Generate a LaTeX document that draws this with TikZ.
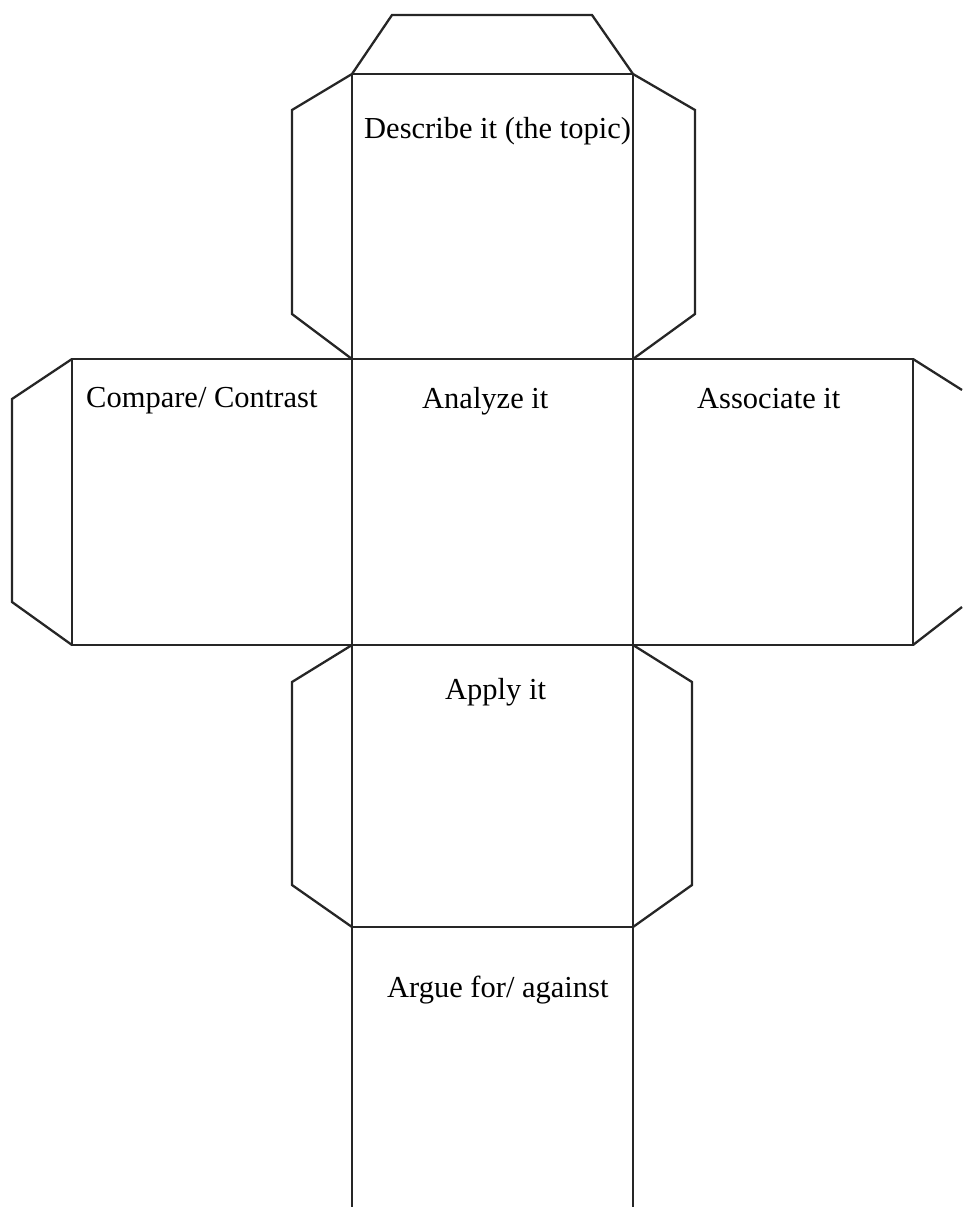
\documentclass[tikz,border=0pt]{standalone}
\usepackage{fontspec}
\setmainfont{Liberation Serif}
\begin{document}
\begin{tikzpicture}[x=1pt,y=-1pt,
  edge/.style={line width=2.3pt, line join=miter, black!85},
  lbl/.style={anchor=base west, inner sep=0pt, font=\fontsize{30.5}{36}\selectfont}]
\useasboundingbox (0,0) rectangle (962,1207);
% top flap and top face
\draw[edge] (352,74) -- (392,15) -- (592,15) -- (633,74);
\draw[edge] (352,74) rectangle (633,359);
\draw[edge] (352,74) -- (292,110) -- (292,314) -- (352,359);
\draw[edge] (633,74) -- (695,110) -- (695,314) -- (633,359);
% middle row
\draw[edge] (72,359) rectangle (913,645);
\draw[edge] (352,359) -- (352,645);
\draw[edge] (633,359) -- (633,645);
\draw[edge] (72,359) -- (12,399) -- (12,602) -- (72,645);
\draw[edge] (913,359) -- (962,390);
\draw[edge] (913,645) -- (962,607);
% apply face
\draw[edge] (352,645) rectangle (633,927);
\draw[edge] (352,645) -- (292,682) -- (292,885) -- (352,927);
\draw[edge] (633,645) -- (692,682) -- (692,885) -- (633,927);
% argue face
\draw[edge] (352,927) -- (352,1207);
\draw[edge] (633,927) -- (633,1207);
% labels
\node[lbl] (describe) at (364,138) {Describe it (the topic)};
\node[lbl] (compare) at (86,407) {Compare/ Contrast};
\node[lbl] (analyze) at (422,408) {Analyze it};
\node[lbl] (associate) at (697,408) {Associate it};
\node[lbl] (apply) at (445,699) {Apply it};
\node[lbl] (argue) at (387,997) {Argue for/ against};
\end{tikzpicture}
\end{document}
